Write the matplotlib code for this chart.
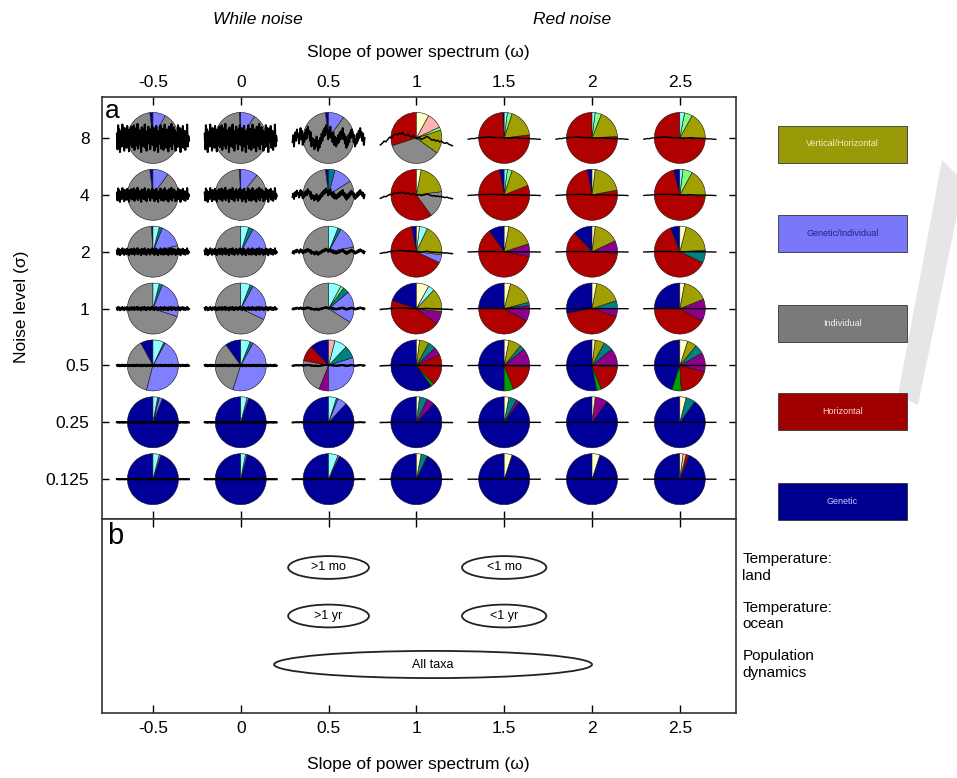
import numpy as np
import matplotlib
matplotlib.use("Agg")
from matplotlib import pyplot as plt
from matplotlib.patches import Ellipse, Rectangle, Polygon

plt.rcParams['font.family'] = ['Liberation Sans', 'DejaVu Sans']
plt.rcParams['axes.unicode_minus'] = False

# columns: slope of the power spectrum, rows: noise level
slopes = [-0.5, 0, 0.5, 1, 1.5, 2, 2.5]
slope_labels = ["-0.5", "0", "0.5", "1", "1.5", "2", "2.5"]
noise_levels = [8, 4, 2, 1, 0.5, 0.25, 0.125]
noise_labels = ["8", "4", "2", "1", "0.5", "0.25", "0.125"]

# wedge categories, laid out counter-clockwise from 12 o'clock in this order
categories = ["G", "gr", "H", "I", "GH", "GI", "te", "VH", "lg", "cy", "pk", "ly"]
cat_colors = {
    "G": "#000099", "gr": "#00a000", "H": "#b00000", "I": "#8a8a8a",
    "GH": "#8c008c", "GI": "#7f7fff", "te": "#008080", "VH": "#a0a000",
    "lg": "#80ff80", "cy": "#90ffff", "pk": "#ffb0b0", "ly": "#ffffc8",
}

# share of each outcome (percent), rows from noise 8 down to 0.125
pies_m05 = [
    {"G": 2, "I": 90, "GI": 8},
    {"G": 2, "I": 88, "GI": 10},
    {"G": 1, "I": 78, "GI": 15, "te": 2, "cy": 4},
    {"I": 70, "GI": 24, "te": 2, "cy": 4},
    {"G": 8, "I": 38, "GI": 46, "te": 1, "cy": 7},
    {"G": 94, "GI": 2, "te": 1, "cy": 3},
    {"G": 95, "GI": 1, "cy": 4},
]
pies_0 = [
    {"G": 1, "I": 90, "GI": 9},
    {"G": 1, "I": 88, "GI": 11},
    {"I": 76, "GI": 16, "te": 3, "cy": 5},
    {"I": 68, "GI": 24, "te": 2, "cy": 6},
    {"G": 10, "I": 35, "GI": 47, "te": 2, "cy": 6},
    {"G": 95, "GI": 1, "cy": 4},
    {"G": 96, "GI": 1, "cy": 3},
]
pies_05 = [
    {"G": 2, "I": 88, "GI": 10},
    {"G": 2, "I": 82, "GI": 12, "te": 4},
    {"I": 78, "GI": 14, "te": 2, "cy": 6},
    {"I": 66, "GI": 20, "te": 4, "lg": 2, "cy": 8},
    {"G": 12, "H": 10, "I": 22, "GH": 6, "GI": 30, "te": 8, "cy": 8, "pk": 4},
    {"G": 88, "GI": 6, "te": 1, "cy": 5},
    {"G": 93, "GI": 1, "cy": 6},
]
pies_1 = [
    {"H": 30, "I": 35, "VH": 15, "lg": 2, "pk": 10, "ly": 8},
    {"H": 60, "I": 17, "VH": 20, "ly": 3},
    {"G": 3, "H": 65, "VH": 20, "cy": 5, "ly": 2, "GI": 5},
    {"G": 20, "H": 45, "GH": 8, "VH": 15, "cy": 4, "ly": 8},
    {"G": 60, "gr": 2, "H": 20, "GH": 5, "te": 5, "VH": 6, "ly": 2},
    {"G": 88, "GH": 5, "te": 5, "ly": 2},
    {"G": 93, "te": 4, "ly": 3},
]
pies_15 = [
    {"G": 1, "H": 76, "VH": 18, "lg": 3, "cy": 2},
    {"G": 3, "H": 78, "VH": 14, "lg": 3, "cy": 2},
    {"G": 10, "H": 62, "GH": 8, "VH": 17, "ly": 3},
    {"G": 25, "H": 42, "GH": 10, "te": 2, "VH": 17, "ly": 4},
    {"G": 50, "gr": 6, "H": 18, "GH": 12, "te": 3, "VH": 8, "ly": 3},
    {"G": 90, "GH": 2, "te": 5, "ly": 3},
    {"G": 95, "ly": 5},
]
pies_2 = [
    {"H": 76, "VH": 18, "lg": 4, "cy": 2},
    {"G": 3, "H": 75, "VH": 20, "ly": 2},
    {"G": 12, "H": 62, "GH": 8, "VH": 16, "ly": 2},
    {"G": 28, "H": 42, "GH": 5, "te": 5, "VH": 17, "ly": 3},
    {"G": 53, "gr": 3, "H": 18, "GH": 12, "te": 6, "VH": 6, "ly": 2},
    {"G": 90, "GH": 8, "ly": 2},
    {"G": 95, "ly": 5},
]
pies_25 = [
    {"H": 75, "VH": 17, "lg": 5, "cy": 3},
    {"G": 4, "H": 70, "VH": 18, "lg": 6, "cy": 2},
    {"G": 6, "H": 62, "te": 8, "VH": 20, "ly": 4},
    {"G": 25, "H": 42, "GH": 14, "VH": 16, "ly": 3},
    {"G": 45, "gr": 6, "H": 20, "GH": 12, "te": 6, "VH": 6, "ly": 5},
    {"G": 90, "te": 6, "ly": 4},
    {"G": 94, "H": 2, "pk": 2, "ly": 2},
]
pies = [pies_m05, pies_0, pies_05, pies_1, pies_15, pies_2, pies_25]

# example noise traces drawn through each pie
white_trace = [0.3, -0.8, 0.9, -0.2, 0.6, -1.0, 0.4, 0.1, -0.6, 0.95, -0.4, 0.2,
               -0.9, 0.7, -0.1, 0.5, -0.7, 0.85, -0.3, 0.0, -0.95, 0.6, 0.25, -0.5,
               0.8, -0.65, 0.15, -0.35, 0.9, -0.85, 0.45, -0.15, 0.7, -0.55, 1.0, -0.75,
               0.05, 0.55, -0.45, 0.35, -1.0, 0.75, -0.25, 0.65, -0.6, 0.1, 0.95, -0.7,
               0.3, -0.9, 0.5, -0.2, 0.8, -0.4, 0.2, -0.8, 0.6, -0.05, 0.9, -0.5,
               -0.3, 0.7, -0.9, 0.4, -0.1, 0.85, -0.6, 0.2, -1.0, 0.5, 0.05, -0.4,
               0.9, -0.75, 0.35, -0.2, 0.65, -0.85, 0.1, 0.95, -0.5, 0.3, -0.7, 0.6,
               -0.05, -0.95, 0.8, -0.35, 0.45, -0.6, 1.0, -0.8, 0.2, -0.25, 0.75, -0.45,
               0.55, -0.9, 0.15, 0.4, -0.65, 0.9, -0.15, -0.55, 0.7, -1.0, 0.25, 0.6,
               -0.3, 0.85, -0.7, 0.0, 0.5, -0.85, 0.35, -0.4, 0.95, -0.6, 0.15, -0.2]
pink_trace = [-0.3, 0.2, -0.6, 0.1, 0.4, -0.2, 0.6, 0.1, 0.3, -0.4, 0.2, 0.7, -0.1, 0.5,
              -0.5, 0.2, -0.3, 0.4, -0.1, 0.6, 0.0, 0.8, 0.3, 0.5, -0.2, 0.4, -0.6, 0.0,
              -0.4, -0.1, -0.8, -0.2, -0.6, 0.1, -0.5, -0.9, -0.2, -0.7, 0.0, -0.4, 0.3,
              -0.2, 0.5, 0.1, 0.7, 0.2, 0.9, 0.4, 0.6, -0.1, 0.5, 0.1, 0.8, 0.0, 0.3, -0.3,
              0.4, -0.5, 0.1, -0.2, -0.6, 0.0, -0.4, 0.2, -0.3, 0.4, -0.1, 0.5, 0.2, 0.7,
              -0.1, 0.3, -0.4, 0.1, -0.7, -0.2, -0.5, 0.2, -0.3, 0.4, 0.0, 0.6, 0.1, 0.3,
              -0.3, 0.2, -0.6, -0.1, -0.4, 0.3, -0.2, 0.5, 0.0, 0.7, 0.2, 0.4, -0.2, 0.3,
              -0.5, 0.0]
red_trace = [-0.9, -0.7, -0.4, -0.5, -0.2, 0.1, 0.0, 0.3, 0.5, 0.4, 0.6, 0.5, 0.7,
             0.4, 0.3, 0.5, 0.2, 0.1, 0.3, 0.0, -0.1, 0.1, -0.2, -0.1, 0.0, 0.2, 0.1,
             -0.1, -0.3, -0.2, -0.4, -0.3, -0.5, -0.4, -0.6, -0.7, -0.6, -0.8, -0.9, -1.0]
column_trace = [white_trace, white_trace, pink_trace, red_trace, red_trace, red_trace, red_trace]
column_gain = [1.0, 1.0, 1.0, 0.55, 0.1, 0.1, 0.1]
column_lw = [1.5, 1.5, 1.4, 1.1, 1.0, 1.0, 1.0]

# legend boxes on the right
legend_labels = ["Vertical/Horizontal", "Genetic/Individual", "Individual", "Horizontal", "Genetic"]
legend_colors = ["#9a9a08", "#7878f8", "#7a7a7a", "#a00000", "#000090"]
legend_text_colors = ["#f0f0c8", "#202080", "#f0f0f0", "#ffd0d0", "#c8c8ff"]

# panel b: ranges of observed spectral slopes
b_groups = ["Temperature:\nland", "Temperature:\nocean", "Population\ndynamics"]
b_labels = [">1 mo", "<1 mo", ">1 yr", "<1 yr", "All taxa"]
b_group = [0, 0, 1, 1, 2]
b_lo = [0.27, 1.26, 0.27, 1.26, 0.19]
b_hi = [0.73, 1.74, 0.73, 1.74, 2.0]

W, H = 957, 778


def px_rect(left, top, right, bottom):
    return [left / W, 1 - bottom / H, (right - left) / W, (bottom - top) / H]


fig = plt.figure(figsize=(W / 100, H / 100), dpi=100)

# faint watermark stroke behind the legend
fig.patches.append(Polygon([(942 / W, 1 - 160 / H), (957 / W, 1 - 175 / H),
                            (957 / W, 1 - 215 / H), (918 / W, 1 - 405 / H),
                            (898 / W, 1 - 395 / H)],
                           closed=True, transform=fig.transFigure,
                           facecolor='#e6e6e6', edgecolor='none', zorder=0))

# ---- panel a
ax = fig.add_axes(px_rect(102, 97, 736, 519))
ax.set_xlim(-0.79, 2.82)
ax.set_yscale('log', base=2)
ax.set_ylim(2 ** -3.70, 2 ** 3.72)
ax.set_xticks(slopes)
ax.set_xticklabels(slope_labels)
ax.set_yticks(noise_levels)
ax.set_yticklabels(noise_labels)
ax.yaxis.set_minor_locator(matplotlib.ticker.NullLocator())
ax.tick_params(axis='x', direction='in', top=True, bottom=True, labeltop=True,
               labelbottom=False, length=6, width=1, pad=5, labelsize=12.5)
ax.tick_params(axis='y', direction='in', left=True, right=True, length=5,
               width=1, pad=9, labelsize=12.5)
for sp in ax.spines.values():
    sp.set_linewidth(1.2)
    sp.set_color('#333333')
ax.text(0.005, 0.995, "a", transform=ax.transAxes, ha='left', va='top', fontsize=19)

pie_d = 52
for ci, x in enumerate(slopes):
    for ri, s in enumerate(noise_levels):
        share = pies[ci][ri]
        keys = [k for k in categories if k in share]
        cx, cy = ax.transData.transform((x, s))
        (x0, y0), (x1, y1) = ax.transAxes.inverted().transform(
            [(cx - pie_d / 2, cy - pie_d / 2), (cx + pie_d / 2, cy + pie_d / 2)])
        ax_p = ax.inset_axes([x0, y0, x1 - x0, y1 - y0])
        ax_p.pie([share[k] for k in keys], colors=[cat_colors[k] for k in keys],
                 startangle=90, counterclock=True,
                 wedgeprops=dict(edgecolor='#111111', linewidth=0.4))
        ax_p.set_xlim(-1.02, 1.02)
        ax_p.set_ylim(-1.02, 1.02)
        ax_p.axis('off')

        trace = np.array(column_trace[ci])
        tx = x + np.linspace(-0.205, 0.205, len(trace))
        ty = s * np.exp2(trace * s * column_gain[ci] * 0.031)
        ax.plot(tx, ty, color='black', lw=column_lw[ci], zorder=6)

# ---- panel b
axb = fig.add_axes(px_rect(102, 519, 736, 713))
axb.set_xlim(-0.79, 2.82)
axb.set_ylim(0, 4)
axb.set_xticks(slopes)
axb.set_xticklabels(slope_labels)
axb.set_yticks([])
axb.tick_params(axis='x', direction='in', top=True, bottom=True, length=6,
                width=1, pad=6, labelsize=12.5)
for sp in axb.spines.values():
    sp.set_linewidth(1.2)
    sp.set_color('#333333')
axb.text(0.008, 0.985, "b", transform=axb.transAxes, ha='left', va='top', fontsize=21)

for lab, g, lo, hi in zip(b_labels, b_group, b_lo, b_hi):
    yc = 3 - g
    h = 0.56 if lab == "All taxa" else 0.47
    axb.add_patch(Ellipse(((lo + hi) / 2, yc), hi - lo, h, facecolor='white',
                          edgecolor='#222222', lw=1.3))
    axb.text((lo + hi) / 2, yc, lab, ha='center', va='center', fontsize=9)

for g, name in enumerate(b_groups):
    axb.text(1.01, 3 - g, name, transform=axb.get_yaxis_transform(), ha='left',
             va='center', fontsize=11, linespacing=1.25)

# ---- axis titles
fig.text(418 / W, 1 - 52 / H, "Slope of power spectrum (\u03c9)", ha='center', va='center', fontsize=12.5)
fig.text(418 / W, 1 - 765 / H, "Slope of power spectrum (\u03c9)", ha='center', va='center', fontsize=12.5)
fig.text(22 / W, 1 - 307 / H, "Noise level (\u03c3)", ha='center', va='center', rotation=90, fontsize=12.5)
fig.text(258 / W, 1 - 20 / H, "While noise", ha='center', va='center', style='italic', fontsize=12.5)
fig.text(572 / W, 1 - 20 / H, "Red noise", ha='center', va='center', style='italic', fontsize=12.5)

# ---- legend boxes
box_centers = [144, 233.5, 323.5, 411.5, 501]
for lab, col, tcol, yc in zip(legend_labels, legend_colors, legend_text_colors, box_centers):
    fig.patches.append(Rectangle((778 / W, 1 - (yc + 18.5) / H), 129 / W, 37 / H,
                                 transform=fig.transFigure, facecolor=col,
                                 edgecolor='#333333', lw=0.6))
    fig.text(842.5 / W, 1 - yc / H, lab, ha='center', va='center', color=tcol, fontsize=6.5)

fig.savefig("out.png", dpi=100)
